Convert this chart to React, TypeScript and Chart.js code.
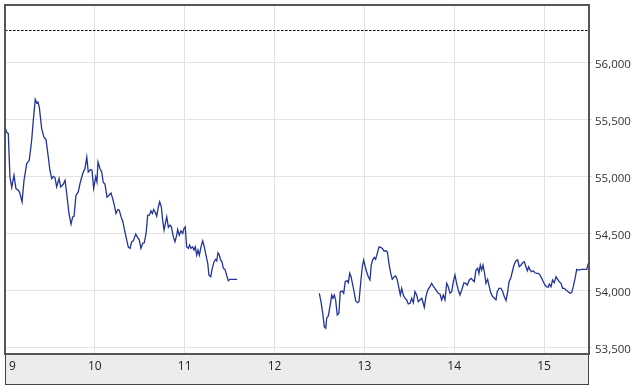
import React, { useEffect, useRef } from "react";
import { Chart, registerables } from "chart.js";

Chart.register(...registerables);

// minutes after 09:00
const morningMinutes = [0, 1.1, 2.2, 3.3, 4.5, 6.0, 7.3, 8.9, 10, 11.4, 12.7, 14.5, 16.2, 17.8, 18.9, 20.2, 21.2, 22.0, 22.9, 24.5, 26.0, 27.4, 28.9, 30.0, 31.2, 32.3, 33.4, 34.5, 36.1, 37.2, 38.9, 40.1, 41.2, 42.7, 44.1, 45.2, 46.1, 47.4, 48.9, 50.1, 51.9, 53.4, 54.6, 55.6, 57.2, 58.1, 59.2, 60.6, 61.4, 62.1, 63.4, 64.6, 65.6, 66.8, 68.1, 69.4, 70.8, 71.9, 73.0, 74.1, 75.3, 76.3, 77.5, 78.6, 80.1, 82.3, 83.5, 84.6, 85.7, 87.3, 88.3, 89.7, 90.8, 92.0, 93.0, 94.2, 95.3, 96.4, 97.5, 98.4, 99.3, 100.4, 101.3, 102.4, 103.3, 104.4, 105.3, 106.2, 107.3, 108.0, 109.1, 110.2, 111.1, 112.4, 113.5, 114.7, 115.3, 116.4, 117.5, 118.7, 119.5, 120.4, 121.3, 122.4, 123.3, 124.2, 125.3, 126.2, 127.1, 128.0, 128.9, 129.8, 130.9, 132.0, 133.1, 134.2, 135.4, 136.2, 137.4, 138.4, 139.6, 140.7, 141.4, 142.2, 143.1, 144.0, 144.9, 145.8, 146.9, 148.0, 149.1, 150.3, 155.0];
const morningPrices = [55430, 55385, 55372, 54992, 54900, 55007, 54891, 54876, 54847, 54774, 54963, 55110, 55138, 55313, 55488, 55672, 55640, 55648, 55605, 55416, 55342, 55320, 55167, 55051, 54978, 54998, 54987, 54905, 54978, 54905, 54928, 54963, 54847, 54672, 54579, 54642, 54648, 54832, 54861, 54935, 55022, 55066, 55167, 55036, 55057, 55051, 54891, 54992, 54949, 55123, 55066, 55036, 54946, 54928, 54815, 54832, 54852, 54803, 54745, 54672, 54707, 54701, 54642, 54607, 54511, 54380, 54366, 54424, 54432, 54491, 54467, 54439, 54366, 54410, 54415, 54497, 54657, 54657, 54695, 54672, 54707, 54681, 54648, 54730, 54774, 54730, 54613, 54526, 54599, 54642, 54550, 54570, 54555, 54467, 54424, 54482, 54532, 54482, 54520, 54497, 54541, 54555, 54380, 54366, 54395, 54366, 54380, 54351, 54380, 54307, 54351, 54307, 54380, 54432, 54380, 54307, 54235, 54132, 54117, 54191, 54249, 54270, 54257, 54327, 54307, 54264, 54249, 54191, 54182, 54132, 54083, 54095, 54095];

const afternoonMinutes = [209.9, 211.0, 212.2, 213.2, 214.2, 214.8, 215.9, 217.0, 218.2, 219.0, 219.9, 220.8, 221.9, 223.0, 223.9, 225.2, 226.2, 227.2, 228.4, 229.3, 230.2, 231.1, 231.9, 233.1, 234.2, 235.5, 236.4, 237.5, 238.6, 239.5, 240.6, 241.5, 242.6, 243.7, 244.6, 245.5, 246.6, 247.5, 248.6, 249.8, 250.9, 252.0, 253.1, 254.4, 255.3, 256.4, 257.6, 258.6, 259.8, 260.9, 262.0, 263.1, 264.0, 264.9, 266.0, 267.1, 268.2, 269.3, 270.5, 271.6, 272.7, 273.8, 274.9, 276.0, 277.1, 278.3, 279.3, 280.0, 281.1, 282.3, 283.8, 284.9, 286.0, 287.1, 288.3, 289.3, 290.5, 291.6, 292.7, 293.8, 295.0, 296.0, 297.2, 298.3, 299.4, 300.5, 301.6, 302.7, 303.8, 305.0, 306.5, 307.6, 308.7, 310.1, 311.2, 312.3, 313.4, 314.5, 315.7, 316.5, 317.4, 318.3, 319.2, 320.1, 321.2, 322.3, 323.4, 324.5, 325.7, 326.8, 327.9, 328.7, 329.9, 331.2, 332.4, 333.4, 334.6, 335.7, 336.6, 337.7, 338.8, 339.9, 341.2, 342.4, 343.4, 344.6, 345.7, 346.8, 347.9, 348.8, 349.7, 350.6, 351.7, 352.8, 353.9, 355.1, 356.2, 357.3, 358.4, 359.5, 360.6, 361.7, 362.8, 363.5, 364.6, 365.7, 366.8, 368.0, 369.1, 370.1, 371.3, 372.4, 373.5, 374.6, 376.1, 377.3, 378.4, 379.5, 380.7, 381.8, 382.9, 385.1, 388.5, 389.5];
const afternoonPrices = [53972, 53899, 53797, 53680, 53666, 53754, 53774, 53855, 53957, 53929, 53957, 53914, 53782, 53797, 53986, 53992, 53972, 54074, 54083, 54065, 54147, 54117, 54065, 53986, 53905, 53890, 53899, 54060, 54205, 54264, 54205, 54161, 54117, 54089, 54220, 54264, 54287, 54270, 54322, 54380, 54375, 54366, 54342, 54345, 54336, 54235, 54147, 54095, 54117, 54124, 54089, 54016, 53957, 54016, 53957, 53929, 53914, 53879, 53885, 53929, 53890, 53986, 53957, 53899, 53914, 53929, 53885, 53850, 53943, 54001, 54030, 54060, 54036, 54016, 53992, 53972, 53966, 53914, 53957, 53914, 54060, 54030, 53972, 53986, 54074, 54132, 54060, 54001, 53957, 54001, 54065, 54060, 54045, 54089, 54103, 54089, 54074, 54176, 54191, 54147, 54220, 54176, 54220, 54161, 54060, 54095, 54030, 53972, 53943, 53929, 53914, 53986, 54016, 54016, 53986, 53943, 53908, 53986, 54074, 54103, 54161, 54220, 54257, 54264, 54205, 54220, 54240, 54249, 54205, 54170, 54205, 54176, 54161, 54170, 54152, 54147, 54147, 54132, 54103, 54074, 54045, 54030, 54025, 54054, 54030, 54089, 54065, 54117, 54095, 54074, 54060, 54016, 54016, 54001, 53986, 53972, 53978, 54030, 54103, 54182, 54176, 54182, 54182, 54235];

const hourLabels = ["9", "10", "11", "12", "13", "14", "15"];
const hourMinutes = [0, 60, 120, 180, 240, 300, 360];
const priceTicks = [53500, 54000, 54500, 55000, 55500, 56000];
const previousClose = 56282;
const sessionEnd = 390;
const yMin = 53440;
const yMax = 56500;

export default function App() {
  const ref = useRef<HTMLCanvasElement>(null);

  useEffect(() => {
    if (!ref.current) return;
    const points: { x: number; y: number | null }[] = [];
    morningMinutes.forEach((m, i) => points.push({ x: m, y: morningPrices[i] }));
    points.push({ x: 180, y: null });
    afternoonMinutes.forEach((m, i) => points.push({ x: m, y: afternoonPrices[i] }));

    const decor = {
      id: "decor",
      beforeDatasetsDraw(chart: any) {
        const { ctx, chartArea } = chart;
        const y = chart.scales.y.getPixelForValue(previousClose);
        ctx.save();
        ctx.strokeStyle = "#111";
        ctx.lineWidth = 1;
        ctx.setLineDash([2.5, 1.5]);
        ctx.beginPath();
        ctx.moveTo(chartArea.left, Math.round(y) + 0.5);
        ctx.lineTo(chartArea.right, Math.round(y) + 0.5);
        ctx.stroke();
        ctx.restore();
      },
      afterDraw(chart: any) {
        const { ctx, chartArea } = chart;
        const xs = chart.scales.x;
        const bandBottom = chartArea.bottom + 30;
        ctx.save();
        ctx.fillStyle = "#ececec";
        ctx.fillRect(chartArea.left, chartArea.bottom, chartArea.right - chartArea.left, bandBottom - chartArea.bottom);
        ctx.strokeStyle = "#444";
        ctx.lineWidth = 1;
        ctx.strokeRect(chartArea.left + 0.5, chartArea.bottom + 0.5, chartArea.right - chartArea.left - 1, bandBottom - chartArea.bottom);
        ctx.strokeStyle = "#555";
        ctx.lineWidth = 2;
        ctx.strokeRect(chartArea.left, chartArea.top, chartArea.right - chartArea.left, chartArea.bottom - chartArea.top);
        ctx.fillStyle = "#222";
        ctx.font = '12px "Open Sans"';
        ctx.textBaseline = "middle";
        hourLabels.forEach((lab, i) => {
          const px = xs.getPixelForValue(hourMinutes[i]);
          if (i === 0) {
            ctx.textAlign = "left";
            ctx.fillText(lab, px + 4, chartArea.bottom + 13);
          } else {
            ctx.textAlign = "center";
            ctx.fillText(lab, px, chartArea.bottom + 13);
          }
        });
        ctx.restore();
      },
    };

    const chart = new Chart(ref.current, {
      type: "line",
      data: {
        datasets: [
          {
            data: points as any,
            borderColor: "#22339a",
            borderWidth: 1.3,
            pointRadius: 0,
            tension: 0,
            spanGaps: false,
            fill: false,
          },
        ],
      },
      options: {
        animation: false,
        responsive: false,
        events: [],
        layout: { padding: { left: 5, top: 5, right: 0, bottom: 0 } },
        plugins: { legend: { display: false }, tooltip: { enabled: false } },
        scales: {
          x: {
            type: "linear",
            min: 0,
            max: sessionEnd,
            afterBuildTicks: (scale: any) => {
              scale.ticks = hourMinutes.map((v) => ({ value: v }));
            },
            afterFit: (scale: any) => {
              scale.height = 38;
              scale.paddingLeft = 0;
              scale.paddingRight = 0;
            },
            ticks: { display: false },
            grid: { color: "#e2e2e2", drawTicks: false, lineWidth: 1 },
            border: { display: false },
          },
          y: {
            type: "linear",
            position: "right",
            min: yMin,
            max: yMax,
            afterBuildTicks: (scale: any) => {
              scale.ticks = priceTicks.map((v) => ({ value: v }));
            },
            afterFit: (scale: any) => {
              scale.width = 52;
              scale.paddingTop = 0;
              scale.paddingBottom = 0;
            },
            ticks: {
              padding: 3,
              labelOffset: 3,
              color: "#333",
              font: { family: '"Open Sans"', size: 11.5 },
              callback: (v: any) => Number(v).toLocaleString("en-US"),
            },
            grid: { color: "#e2e2e2", tickLength: 3, lineWidth: 1 },
            border: { display: false },
          },
        },
      },
      plugins: [decor],
    });
    return () => chart.destroy();
  }, []);

  return (
    <div style={{ position: "absolute", left: 0, top: 0, width: 641, height: 392, background: "#fff" }}>
      <canvas ref={ref} width={641} height={392} />
    </div>
  );
}
